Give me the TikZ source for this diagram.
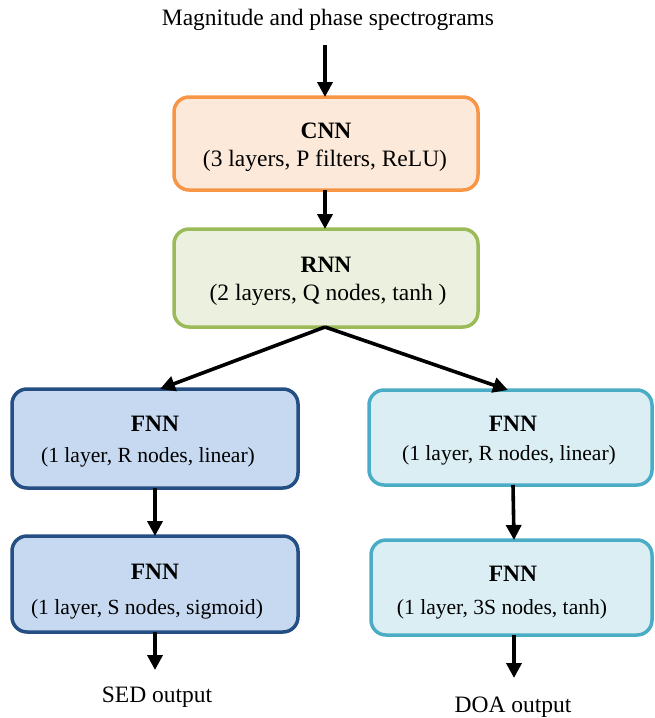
\documentclass[tikz,border=0pt]{standalone}
\usepackage{fontspec}
\setmainfont{Liberation Serif}
\usetikzlibrary{arrows.meta}
\definecolor{cnnE}{HTML}{F79646}
\definecolor{cnnF}{HTML}{FDE9D9}
\definecolor{rnnE}{HTML}{9BBB59}
\definecolor{rnnF}{HTML}{EBF1DE}
\definecolor{sedE}{HTML}{254E82}
\definecolor{sedF}{HTML}{C6D9F1}
\definecolor{doaE}{HTML}{4BACC6}
\definecolor{doaF}{HTML}{DAEEF3}
\tikzset{
  blk/.style={rounded corners=15pt, line width=3.5pt, align=center, inner sep=0pt},
  lbl/.style={inner sep=0pt, font=\fontsize{23.5}{28}\selectfont},
  sml/.style={inner sep=0pt, font=\fontsize{21.6}{26}\selectfont},
  arr/.style={line width=3.6pt, -{Triangle[length=15pt,width=15pt]}},
}
\begin{document}
\begin{tikzpicture}[x=1pt,y=-1pt, font=\fontsize{23.5}{28}\selectfont]
\useasboundingbox (0,0) rectangle (654,718);
% boxes
\draw[blk, draw=cnnE, fill=cnnF] (174,97) rectangle (478,190);
\draw[blk, draw=rnnE, fill=rnnF] (174,229) rectangle (478,327);
\draw[blk, draw=sedE, fill=sedF] (12,389) rectangle (298,488);
\draw[blk, draw=sedE, fill=sedF] (12,536) rectangle (298,632);
\draw[blk, draw=doaE, fill=doaF] (369,390) rectangle (652,485);
\draw[blk, draw=doaE, fill=doaF] (371,540) rectangle (652,635);
% named anchors for boxes
\coordinate (cnnT) at (325,97);  \coordinate (cnnB) at (325,190);
\coordinate (rnnT) at (325,229); \coordinate (rnnB) at (325,327);
\coordinate (s1T) at (160,389); \coordinate (s1B) at (155,488);
\coordinate (s2T) at (155,536); \coordinate (s2B) at (155,632);
\coordinate (d1T) at (508,390); \coordinate (d1B) at (513,485);
\coordinate (d2T) at (514,540); \coordinate (d2B) at (514,635);
\coordinate (inTop) at (325,45);
\coordinate (sedEnd) at (155,670);
\coordinate (doaEnd) at (514,678);
% texts
\node[lbl] (title) at (328,20) {Magnitude and phase spectrograms};
\node[lbl] (cnn1) at (326,131) {\textbf{CNN}};
\node[lbl] (cnn2) at (325,161) {(3 layers, P filters, ReLU)};
\node[lbl] (rnn1) at (326,265) {\textbf{RNN}};
\node[lbl] (rnn2) at (328,295) {(2 layers, Q nodes, tanh )};
\node[lbl] (s11) at (155,424) {\textbf{FNN}};
\node[sml] (s12) at (148,457) {(1 layer, R nodes, linear)};
\node[lbl] (s21) at (155,572) {\textbf{FNN}};
\node[sml] (s22) at (147,609) {(1 layer, S nodes, sigmoid)};
\node[lbl] (d11) at (513,424) {\textbf{FNN}};
\node[sml] (d12) at (509,455) {(1 layer, R nodes, linear)};
\node[lbl] (d21) at (513,574) {\textbf{FNN}};
\node[sml] (d22) at (502,609) {(1 layer, 3S nodes, tanh)};
\node[lbl] (sed) at (157,697) {SED output};
\node[lbl] (doa) at (513,707) {DOA output};
% arrows
\draw[arr] (inTop) -- (cnnT);
\draw[arr] (cnnB) -- (rnnT);
\draw[arr] (rnnB) -- (s1T);
\draw[arr] (rnnB) -- (d1T);
\draw[arr] (s1B) -- (s2T);
\draw[arr] (s2B) -- (sedEnd);
\draw[arr] (d1B) -- (d2T);
\draw[arr] (d2B) -- (doaEnd);
\end{tikzpicture}
\end{document}
